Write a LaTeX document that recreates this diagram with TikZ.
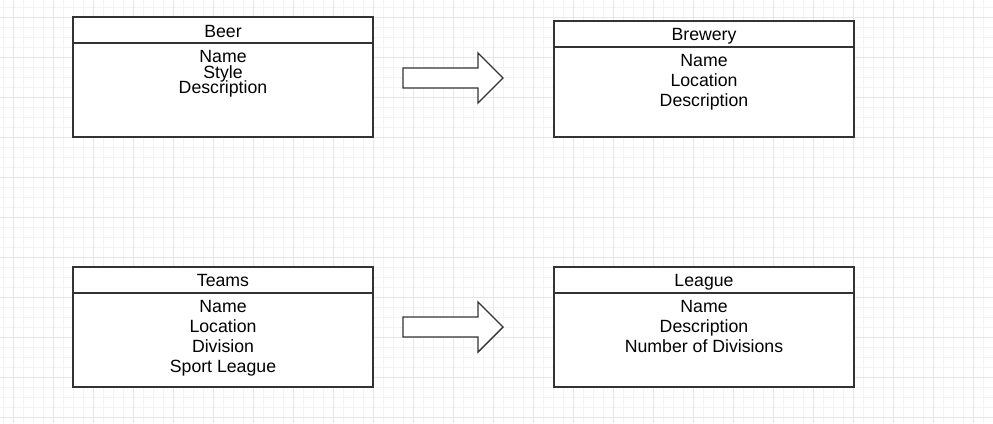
\documentclass[tikz,border=0pt]{standalone}
\usepackage{fontspec}
\setmainfont{Liberation Sans}
\definecolor{gridminor}{HTML}{F3F1FA}
\definecolor{gridmajor}{HTML}{E7E3F5}
\definecolor{strokec}{HTML}{333333}
\tikzset{
  box/.style={draw=strokec, line width=1.4pt, fill=white, anchor=north west,
              minimum width=300pt, inner sep=0pt, outer sep=0pt},
  header/.style={box, minimum height=26pt},
  txt/.style={anchor=base, inner sep=0pt, font=\fontsize{17.7}{20}\selectfont, text=black},
  bigarrow/.style={draw=strokec, line width=1.4pt, fill=white, line join=miter}
}
\begin{document}
\begin{tikzpicture}[x=1pt,y=-1pt]
\useasboundingbox (0,0) rectangle (993,423);
\fill[white] (0,0) rectangle (993,423);
% grid
\foreach \x in {3,13,...,993} \draw[gridminor, line width=1pt] (\x,0) -- (\x,423);
\foreach \y in {7,17,...,423} \draw[gridminor, line width=1pt] (0,\y) -- (993,\y);
\foreach \x in {13,53,...,993} \draw[gridmajor, line width=1pt] (\x,0) -- (\x,423);
\foreach \y in {17,57,...,423} \draw[gridmajor, line width=1pt] (0,\y) -- (993,\y);

% Beer
\node[box, minimum height=120pt] (beer) at (73,17) {};
\node[header] (beerh) at (73,17) {};
\node[txt] (beert) at (223,37.3) {Beer};
\node[txt] (beer1) at (223,62.7) {Name};
\node[txt] (beer2) at (223,78.3) {Style};
\node[txt] (beer3) at (223,93.3) {Description};

% Brewery
\node[box, minimum height=116pt] (brew) at (554,21) {};
\node[header] (brewh) at (554,21) {};
\node[txt] (brewt) at (704,40.5) {Brewery};
\node[txt] (brew1) at (704,66) {Name};
\node[txt] (brew2) at (704,86) {Location};
\node[txt] (brew3) at (704,106) {Description};

% Teams
\node[box, minimum height=120pt] (teams) at (73,267) {};
\node[header] (teamsh) at (73,267) {};
\node[txt] (teamst) at (223,286) {Teams};
\node[txt] (teams1) at (223,312.3) {Name};
\node[txt] (teams2) at (223,332.3) {Location};
\node[txt] (teams3) at (223,352.3) {Division};
\node[txt] (teams4) at (223,372.3) {Sport League};

% League
\node[box, minimum height=120pt] (league) at (554,267) {};
\node[header] (leagueh) at (554,267) {};
\node[txt] (leaguet) at (704,286) {League};
\node[txt] (league1) at (704,312) {Name};
\node[txt] (league2) at (704,332) {Description};
\node[txt] (league3) at (704,352) {Number of Divisions};

% arrows
\coordinate (a1) at (403,78);
\draw[bigarrow] (a1) ++(0,-10) -- ++(75,0) -- ++(0,-15) -- ++(25,25) -- ++(-25,25) -- ++(0,-15) -- ++(-75,0) -- cycle;
\coordinate (a2) at (403,327);
\draw[bigarrow] (a2) ++(0,-10) -- ++(75,0) -- ++(0,-15) -- ++(25,25) -- ++(-25,25) -- ++(0,-15) -- ++(-75,0) -- cycle;
\end{tikzpicture}
\end{document}
